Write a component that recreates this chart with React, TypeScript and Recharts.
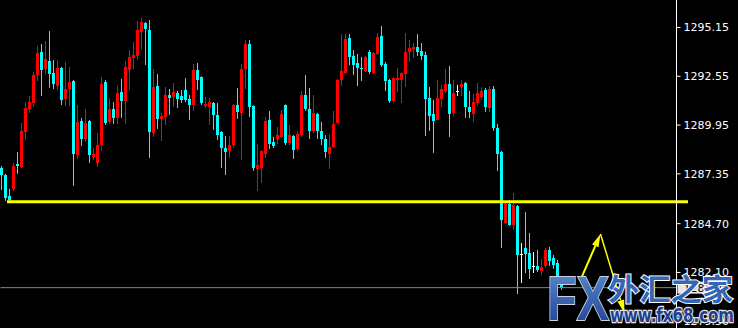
import React from 'react';
import { ComposedChart, Bar, XAxis, YAxis, ReferenceLine } from 'recharts';

const opens = [
  1287.67, 1287.29, 1286.17, 1286.55, 1287.88, 1287.72, 1289.58, 1290.81, 1291.13, 1292.62,
  1293.85, 1292.94, 1293.37, 1292.73, 1292.03, 1292.99, 1291.34, 1291.87, 1292.30, 1288.36,
  1290.17, 1289.21, 1290.17, 1288.25, 1287.93, 1288.89, 1292.25, 1290.12, 1290.81, 1290.33,
  1291.71, 1291.24, 1292.89, 1293.53, 1293.63, 1294.91, 1295.39, 1295.02, 1289.53, 1292.03,
  1290.28, 1290.38, 1291.55, 1291.45, 1291.66, 1291.50, 1291.82, 1291.34, 1291.02, 1292.89,
  1292.51, 1290.97, 1290.92, 1291.13, 1290.49, 1289.58, 1288.73, 1288.57, 1288.89, 1291.02,
  1290.60, 1292.94, 1294.27, 1290.97, 1287.61, 1287.67, 1288.41, 1290.22, 1289.05, 1289.21,
  1289.32, 1291.02, 1289.00, 1289.37, 1288.68, 1289.42, 1291.55, 1290.81, 1289.64, 1290.54,
  1289.64, 1289.21, 1288.41, 1288.78, 1290.06, 1292.35, 1292.73, 1294.59, 1293.63, 1293.26,
  1292.99, 1292.83, 1293.85, 1292.73, 1293.74, 1294.70, 1293.21, 1292.35, 1291.24, 1292.35,
  1292.35, 1292.67, 1293.85, 1294.00, 1294.11, 1293.90, 1293.69, 1291.39, 1290.54, 1290.22,
  1291.34, 1291.77, 1292.14, 1290.60, 1291.77, 1291.98, 1292.19, 1290.92, 1290.54, 1291.13,
  1291.45, 1291.82, 1290.86, 1291.87, 1289.80, 1288.52, 1284.74, 1285.75, 1284.63, 1285.64,
  1283.08, 1283.40, 1283.14, 1282.45, 1282.45, 1282.18, 1282.45, 1283.30, 1282.87, 1282.61,
  1281.54,
];

const highs = [
  1287.77, 1287.35, 1286.55, 1287.93, 1288.52, 1290.06, 1291.18, 1291.50, 1292.78, 1294.16,
  1294.27, 1294.43, 1294.96, 1293.42, 1293.42, 1293.05, 1293.31, 1293.05, 1292.35, 1291.02,
  1290.33, 1290.81, 1290.22, 1288.73, 1289.53, 1292.51, 1292.35, 1291.39, 1291.18, 1292.03,
  1292.41, 1293.37, 1293.95, 1294.38, 1295.50, 1295.66, 1295.44, 1295.55, 1292.94, 1292.67,
  1290.60, 1291.98, 1291.87, 1292.19, 1291.77, 1291.82, 1292.46, 1291.55, 1293.21, 1293.26,
  1292.55, 1291.45, 1291.39, 1291.18, 1291.13, 1289.62, 1289.37, 1289.37, 1291.08, 1291.93,
  1293.21, 1294.48, 1294.48, 1291.00, 1288.94, 1288.60, 1290.38, 1290.70, 1289.32, 1289.85,
  1290.76, 1291.05, 1289.96, 1289.42, 1289.64, 1291.77, 1292.62, 1291.93, 1291.55, 1290.60,
  1290.12, 1289.42, 1289.48, 1290.70, 1292.41, 1294.80, 1294.80, 1294.80, 1293.95, 1293.74,
  1293.58, 1293.63, 1293.95, 1293.85, 1294.86, 1295.23, 1293.31, 1292.41, 1292.49, 1292.99,
  1292.76, 1294.86, 1294.48, 1294.32, 1294.80, 1294.32, 1293.85, 1291.98, 1291.29, 1292.35,
  1292.09, 1292.94, 1293.10, 1292.35, 1292.09, 1292.35, 1292.25, 1291.77, 1291.61, 1292.19,
  1291.98, 1291.93, 1292.03, 1292.03, 1290.01, 1288.57, 1285.85, 1285.96, 1286.33, 1285.69,
  1283.67, 1285.32, 1284.20, 1283.19, 1283.30, 1282.82, 1283.40, 1283.46, 1283.03, 1282.77,
  1281.70,
];

const lows = [
  1286.49, 1285.91, 1285.91, 1286.44, 1287.35, 1287.67, 1289.16, 1290.60, 1290.92, 1292.30,
  1291.50, 1292.67, 1291.93, 1291.87, 1291.82, 1291.02, 1290.97, 1290.97, 1286.71, 1288.15,
  1288.84, 1289.05, 1287.93, 1288.09, 1287.72, 1288.57, 1289.96, 1290.01, 1290.01, 1290.01,
  1290.33, 1290.01, 1291.82, 1292.94, 1293.42, 1293.95, 1293.15, 1288.20, 1289.32, 1289.74,
  1289.10, 1289.96, 1290.49, 1290.92, 1290.86, 1291.13, 1291.18, 1290.22, 1290.70, 1291.82,
  1291.02, 1290.86, 1289.96, 1289.69, 1289.16, 1287.67, 1287.29, 1288.20, 1288.73, 1290.28,
  1288.09, 1291.87, 1290.38, 1287.51, 1286.44, 1286.87, 1288.20, 1288.68, 1288.73, 1288.94,
  1289.26, 1288.89, 1288.89, 1288.15, 1288.57, 1289.32, 1290.70, 1289.21, 1289.53, 1289.21,
  1288.89, 1288.20, 1287.61, 1288.75, 1290.03, 1292.03, 1292.70, 1293.15, 1292.62, 1292.03,
  1292.30, 1292.78, 1292.67, 1292.70, 1293.69, 1293.05, 1291.77, 1291.13, 1291.13, 1291.71,
  1291.13, 1291.98, 1293.31, 1293.53, 1293.63, 1293.42, 1289.37, 1289.64, 1288.47, 1290.20,
  1290.92, 1291.66, 1289.32, 1290.44, 1291.50, 1291.50, 1290.33, 1290.33, 1290.12, 1290.97,
  1291.29, 1290.65, 1290.65, 1289.64, 1287.51, 1283.40, 1284.68, 1284.58, 1284.36, 1280.95,
  1281.54, 1282.07, 1281.75, 1282.07, 1282.13, 1281.97, 1282.34, 1282.45, 1282.29, 1281.43,
  1281.17,
];

const closes = [
  1287.29, 1286.07, 1285.96, 1287.77, 1287.77, 1289.64, 1290.86, 1291.18, 1292.62, 1293.79,
  1292.89, 1293.47, 1292.67, 1292.14, 1292.99, 1291.29, 1291.87, 1292.25, 1288.41, 1290.12,
  1289.21, 1290.06, 1288.36, 1288.41, 1288.89, 1292.14, 1290.06, 1290.81, 1290.33, 1291.66,
  1291.24, 1293.05, 1293.58, 1293.69, 1295.02, 1295.44, 1295.07, 1289.58, 1291.98, 1290.28,
  1290.44, 1291.55, 1291.39, 1291.71, 1291.34, 1291.29, 1291.29, 1291.02, 1292.89, 1292.35,
  1291.13, 1291.08, 1291.18, 1290.49, 1289.42, 1288.73, 1288.52, 1288.89, 1291.02, 1290.65,
  1292.94, 1294.27, 1290.92, 1287.67, 1287.83, 1288.57, 1290.17, 1288.94, 1288.84, 1289.42,
  1290.54, 1289.00, 1289.42, 1288.62, 1289.48, 1291.55, 1290.81, 1289.64, 1290.60, 1289.64,
  1289.21, 1288.52, 1288.78, 1290.01, 1292.35, 1292.83, 1294.54, 1293.58, 1293.15, 1292.99,
  1292.94, 1293.58, 1292.78, 1293.79, 1294.64, 1293.15, 1292.30, 1291.24, 1292.46, 1292.46,
  1292.73, 1293.85, 1294.06, 1294.11, 1293.85, 1293.63, 1291.34, 1290.44, 1290.17, 1291.39,
  1291.87, 1292.14, 1290.54, 1291.66, 1291.77, 1292.14, 1290.92, 1290.65, 1291.18, 1291.66,
  1291.77, 1290.92, 1291.87, 1289.80, 1288.41, 1284.90, 1285.75, 1284.63, 1285.69, 1283.03,
  1283.08, 1283.08, 1282.29, 1282.45, 1282.23, 1282.39, 1283.30, 1282.71, 1282.50, 1281.59,
  1281.27,
];

const TOTAL_SLOTS = 169;
const yDomain = [1279.14, 1296.615];
const priceTicks = [1295.15, 1292.55, 1289.95, 1287.35, 1284.7, 1282.1, 1279.5];
const priceTickLabels = ['1295.15', '1292.55', '1289.95', '1287.35', '1284.70', '1282.10', '1279.50'];
const supportLevel = 1285.87;
const bidPrice = 1281.29;
const bidLabel = '1281.29';
const arrowUp = [{ x: 145, y: 1281.7 }, { x: 150, y: 1284.15 }];
const arrowDown = [{ x: 150, y: 1284.15 }, { x: 156, y: 1279.94 }];

const UP = '#ff0000';
const DOWN = '#00ffff';
const FLAT = '#ffffff';
const SHIFT = -2;

const data = Array.from({ length: TOTAL_SLOTS }, (_, i) =>
  i < opens.length
    ? { i, open: opens[i], high: highs[i], low: lows[i], close: closes[i] }
    : { i }
);

const Candle = (props: any) => {
  const { x, y, width, height, payload } = props;
  if (!payload || payload.high == null || !isFinite(x) || !isFinite(y)) return null;
  const { open, high, low, close } = payload;
  const h = Math.abs(height);
  const k = h / (high - low);
  const py = (v: number) => y + (high - v) * k;
  const cx = Math.floor(x + width / 2 + SHIFT + 0.25) + 0.5;
  const color = close > open ? UP : close < open ? DOWN : FLAT;
  const top = Math.min(py(open), py(close));
  const bh = Math.max(Math.abs(py(open) - py(close)), 1);
  return (
    <g>
      <line x1={cx} x2={cx} y1={py(high)} y2={py(low)} stroke={color} strokeWidth={1} />
      <rect x={cx - 1.5} y={top} width={3} height={bh} fill={color} shapeRendering="crispEdges" />
    </g>
  );
};

const PriceTick = (props: any) => {
  const { x, y, index } = props;
  return (
    <text x={x} y={y} dy={4} fill="#ffffff" fontSize={11} fontFamily="DejaVu Sans" textAnchor="start">
      {priceTickLabels[index]}
    </text>
  );
};

const SupportShape = (props: any) => {
  const { x1, y1, x2 } = props;
  const lo = Math.min(x1, x2);
  const hi = Math.max(x1, x2);
  return <line x1={lo + 6.5} x2={hi + 11.5} y1={y1} y2={y1} stroke="#ffff00" strokeWidth={3} />;
};

const BidShape = (props: any) => {
  const { x1, y1, x2 } = props;
  const lo = Math.min(x1, x2);
  const hi = Math.max(x1, x2);
  return (
    <g>
      <line x1={lo} x2={hi + 1} y1={y1} y2={y1} stroke="#778899" strokeWidth={1} />
      <rect x={hi + 1} y={y1 - 6} width={46} height={12} fill="#e6e6e6" />
      <text x={hi + 7} y={y1 + 4} fill="#000000" fontSize={11} fontFamily="DejaVu Sans">{bidLabel}</text>
    </g>
  );
};

const makeArrow = (lw: number) => (props: any) => {
  const { x1, y1, x2, y2 } = props;
  const ax1 = x1 + SHIFT;
  const ax2 = x2 + SHIFT;
  const ang = Math.atan2(y2 - y1, ax2 - ax1);
  const L = 13;
  const W = 3.5;
  const c = Math.cos(ang);
  const s = Math.sin(ang);
  const bx = ax2 - L * c;
  const by = y2 - L * s;
  const pts = `${ax2},${y2} ${bx - W * s},${by + W * c} ${bx + W * s},${by - W * c}`;
  return (
    <g>
      <line x1={ax1} y1={y1} x2={bx} y2={by} stroke="#ffff00" strokeWidth={lw} />
      <polygon points={pts} fill="#ffff00" />
    </g>
  );
};

const UpArrow = makeArrow(2);
const DownArrow = makeArrow(1.5);

export default function App() {
  return (
    <div style={{ position: 'absolute', left: 0, top: 0, width: 738, height: 328, background: '#000000', overflow: 'hidden' }}>
      <ComposedChart width={738} height={328} data={data} margin={{ top: 0, right: 0, bottom: 0, left: 0.5 }}>
        <XAxis dataKey="i" type="category" hide />
        <YAxis
          orientation="right"
          type="number"
          width={61.5}
          domain={yDomain}
          allowDataOverflow
          ticks={priceTicks}
          interval={0}
          axisLine={{ stroke: '#ffffff' }}
          tickLine={{ stroke: '#ffffff' }}
          tickSize={4}
          tickMargin={3}
          tick={<PriceTick />}
        />
        <Bar
          dataKey={(d: any) => (d.high != null ? [d.low, d.high] : null)}
          shape={Candle}
          barSize={3}
          isAnimationActive={false}
        />
        <ReferenceLine y={bidPrice} shape={BidShape} />
        <ReferenceLine y={supportLevel} shape={SupportShape} />
        <ReferenceLine segment={arrowUp} ifOverflow="visible" shape={UpArrow} />
        <ReferenceLine segment={arrowDown} ifOverflow="visible" shape={DownArrow} />
      </ComposedChart>
      <svg width={738} height={328} style={{ position: 'absolute', left: 0, top: 0, pointerEvents: 'none' }}>
        <defs>
          <linearGradient id="fxGrad" x1="0" y1="0" x2="0" y2="1">
            <stop offset="0" stopColor="#5b93d4" />
            <stop offset="1" stopColor="#1d3a8c" />
          </linearGradient>
        </defs>
        <text x={547} y={320} fontFamily="Liberation Sans" fontWeight="bold" fontSize={63} textLength={62}
          lengthAdjust="spacingAndGlyphs" fill="url(#fxGrad)" stroke="#c9d3e0" strokeWidth={2} paintOrder="stroke">FX</text>
        <text x={608} y={300} fontFamily="Noto Sans CJK SC" fontWeight="bold" fontSize={30} textLength={125}
          lengthAdjust="spacingAndGlyphs" fill="#3466b8" stroke="#ffffff" strokeWidth={2} paintOrder="stroke">外汇之家</text>
        <text x={610} y={322} fontFamily="DejaVu Sans" fontWeight="bold" fontSize={19} textLength={124}
          lengthAdjust="spacingAndGlyphs" fill="#1f3f8f" stroke="#e6e6e6" strokeWidth={2.5} paintOrder="stroke">www.fx68.com</text>
      </svg>
    </div>
  );
}
